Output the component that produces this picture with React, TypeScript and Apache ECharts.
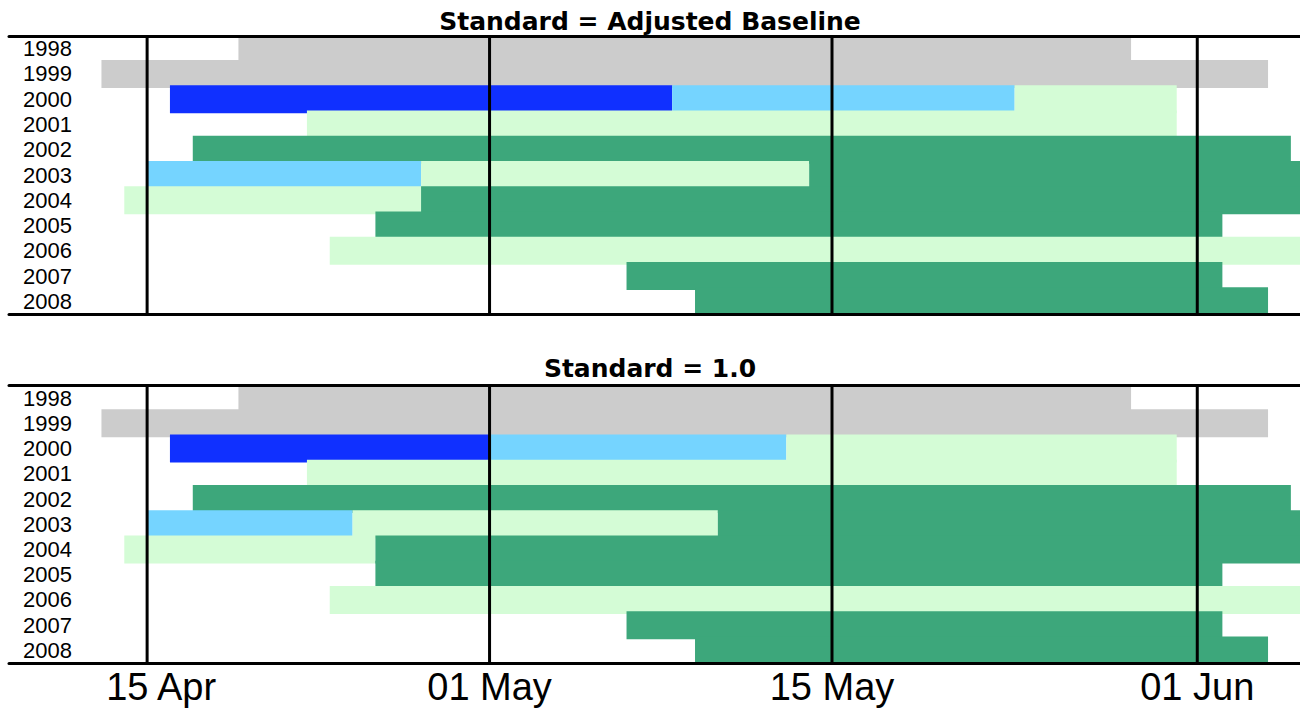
import React, { useEffect, useRef } from "react";
import * as echarts from "echarts";

// Row categories (years)
const years = ["1998", "1999", "2000", "2001", "2002", "2003", "2004", "2005", "2006", "2007", "2008"];

// X axis: days counted from 15 Apr
const tickDays = [0, 15, 30, 46];
const tickLabels = ["15 Apr", "01 May", "15 May", "01 Jun"];
const axisMinDay = -6.05;
const axisMaxDay = 50.5;

// Status classes and their colours
const statusNames = ["none", "high", "elevated", "moderate", "normal"];
const statusColors = ["#CCCCCC", "#1030FF", "#75D4FF", "#D4FCD6", "#3DA77B"];

// Segments: [yearIndex, startDay, endDay, statusIndex]
const adjustedSegments = [
  [0, 4, 43.1, 0],
  [1, -2, 49.1, 0],
  [2, 1, 23, 1],
  [2, 23, 38, 2],
  [2, 38, 45.1, 3],
  [3, 7, 45.1, 3],
  [4, 2, 50.1, 4],
  [5, 0, 12, 2],
  [5, 12, 29, 3],
  [5, 29, 51, 4],
  [6, -1, 12, 3],
  [6, 12, 51, 4],
  [7, 10, 47.1, 4],
  [8, 8, 51, 3],
  [9, 21, 47.1, 4],
  [10, 24, 49.1, 4],
];

const standardSegments = [
  [0, 4, 43.1, 0],
  [1, -2, 49.1, 0],
  [2, 1, 15, 1],
  [2, 15, 28, 2],
  [2, 28, 45.1, 3],
  [3, 7, 45.1, 3],
  [4, 2, 50.1, 4],
  [5, 0, 9, 2],
  [5, 9, 25, 3],
  [5, 25, 51, 4],
  [6, -1, 10, 3],
  [6, 10, 51, 4],
  [7, 10, 47.1, 4],
  [8, 8, 51, 3],
  [9, 21, 47.1, 4],
  [10, 24, 49.1, 4],
];

const titles = ["Standard = Adjusted Baseline", "Standard = 1.0"];

function barRender(params: any, api: any) {
  const yi = api.value(0);
  const s = api.coord([api.value(1), yi]);
  const e = api.coord([api.value(2), yi]);
  const h = api.size([0, 1])[1] * 1.108;
  const cs = params.coordSys;
  const rect = echarts.graphic.clipRectByRect(
    { x: s[0], y: s[1] - h / 2, width: e[0] - s[0], height: h },
    { x: cs.x, y: cs.y, width: cs.width, height: cs.height }
  );
  if (!rect) return null;
  return {
    type: "rect",
    shape: rect,
    style: { fill: statusColors[api.value(3)] },
  };
}

function lineRender(params: any, api: any) {
  const p = api.coord([api.value(0), 0]);
  const cs = params.coordSys;
  return {
    type: "line",
    shape: { x1: p[0], y1: cs.y, x2: p[0], y2: cs.y + cs.height },
    style: { stroke: "#000", lineWidth: 3 },
  };
}

const labelFont = "'Liberation Sans', Arial, sans-serif";

function makeXAxis(gridIndex: number, position: string, withLabels: boolean) {
  return {
    gridIndex,
    type: "value",
    min: axisMinDay,
    max: axisMaxDay,
    position,
    z: 10,
    axisLine: { show: true, onZero: false, lineStyle: { color: "#000", width: 3 } },
    axisTick: { show: false },
    splitLine: { show: false },
    axisLabel: withLabels
      ? {
          show: true,
          customValues: tickDays,
          margin: 5,
          color: "#000",
          fontSize: 38,
          fontFamily: labelFont,
          formatter: (v: number) => {
            const i = tickDays.indexOf(v);
            const t = i >= 0 ? tickLabels[i] : "";
            return i === 0 ? "{first|" + t + "}" : t;
          },
          rich: {
            first: {
              fontSize: 38,
              fontFamily: labelFont,
              color: "#000",
              padding: [0, 0, 0, 28],
            },
          },
        }
      : { show: false },
  };
}

function makeYAxis(gridIndex: number) {
  return {
    gridIndex,
    type: "category",
    data: years,
    inverse: true,
    boundaryGap: true,
    axisLine: { show: false },
    axisTick: { show: false },
    splitLine: { show: false },
    axisLabel: {
      inside: true,
      interval: 0,
      margin: 14,
      color: "#000",
      fontSize: 22,
      fontFamily: labelFont,
      padding: [0, 0, 5, 0],
    },
  };
}

const titleStyle = {
  fontFamily: "'DejaVu Sans', sans-serif",
  fontWeight: "bold",
  fontSize: 25,
  color: "#000",
};

export default function App() {
  const ref = useRef<HTMLDivElement>(null);
  useEffect(() => {
    if (!ref.current) return;
    const chart = echarts.init(ref.current, null, { renderer: "svg" });
    chart.setOption({
      animation: false,
      backgroundColor: "#fff",
      title: [
        { text: titles[0], left: "center", top: 4, textStyle: titleStyle },
        { text: titles[1], left: "center", top: 351, textStyle: titleStyle },
      ],
      grid: [
        { left: 9, right: 0, top: 36, height: 278 },
        { left: 9, right: 0, top: 385.5, height: 277.5 },
      ],
      xAxis: [
        makeXAxis(0, "bottom", false),
        makeXAxis(0, "top", false),
        makeXAxis(1, "bottom", true),
        makeXAxis(1, "top", false),
      ],
      yAxis: [makeYAxis(0), makeYAxis(1)],
      series: [
        {
          type: "custom",
          name: "adjusted",
          xAxisIndex: 0,
          yAxisIndex: 0,
          renderItem: barRender,
          encode: { x: [1, 2], y: 0 },
          data: adjustedSegments,
          z: 2,
        },
        {
          type: "custom",
          name: "adjustedTicks",
          xAxisIndex: 0,
          yAxisIndex: 0,
          renderItem: lineRender,
          encode: { x: 0, y: 1 },
          data: tickDays.map((d) => [d, 0]),
          z: 5,
        },
        {
          type: "custom",
          name: "standard",
          xAxisIndex: 2,
          yAxisIndex: 1,
          renderItem: barRender,
          encode: { x: [1, 2], y: 0 },
          data: standardSegments,
          z: 2,
        },
        {
          type: "custom",
          name: "standardTicks",
          xAxisIndex: 2,
          yAxisIndex: 1,
          renderItem: lineRender,
          encode: { x: 0, y: 1 },
          data: tickDays.map((d) => [d, 0]),
          z: 5,
        },
      ],
    });
    return () => chart.dispose();
  }, []);
  return (
    <div
      ref={ref}
      style={{ position: "fixed", left: 0, top: 0, width: 1300, height: 708 }}
    />
  );
}
